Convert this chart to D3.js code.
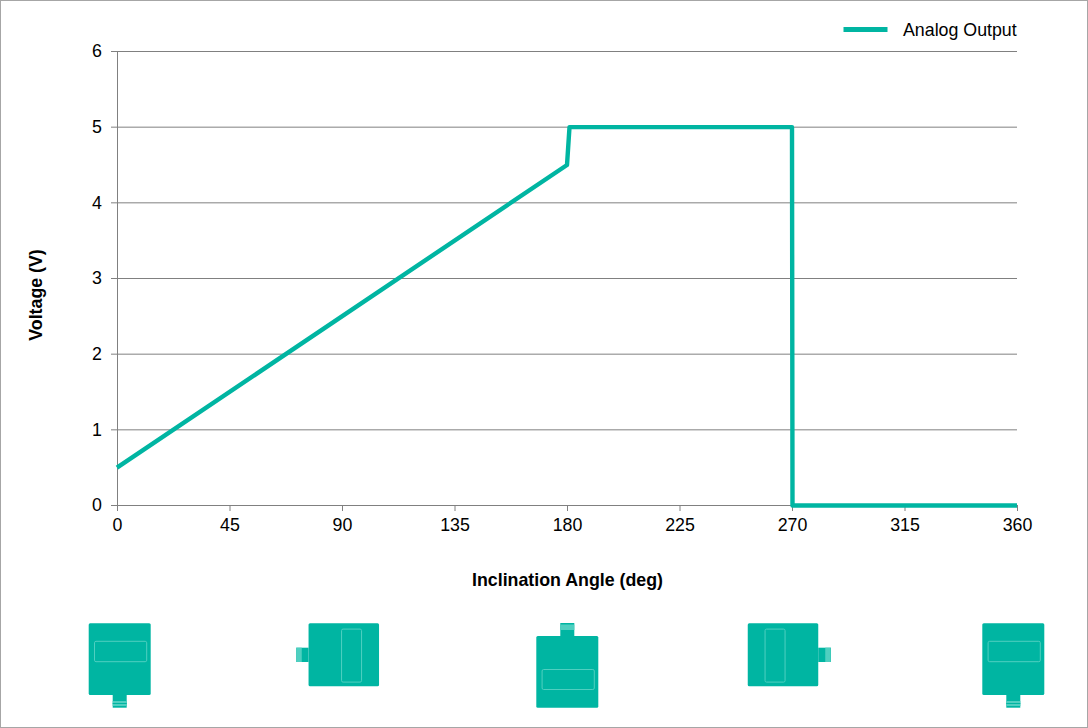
<!DOCTYPE html>
<html><head><meta charset="utf-8">
<script src="https://cdn.jsdelivr.net/npm/d3@7"></script>
<style>html,body{margin:0;padding:0;background:#fff}svg{display:block}text{font-family:"Liberation Sans",Arial,sans-serif;fill:#000}</style>
</head><body><svg id="c" width="1088" height="728"></svg>
<script>
const seriesName = "Analog Output";
const angles = [0, 180, 181, 270, 270.2, 360];
const voltages = [0.5, 4.5, 5, 5, 0, 0];
const xTicks = [0, 45, 90, 135, 180, 225, 270, 315, 360];
const yTicks = [0, 1, 2, 3, 4, 5, 6];
const xTitle = "Inclination Angle (deg)";
const yTitle = "Voltage (V)";
const iconAngles = [0, 90, 180, 270, 360];

const W = 1088, H = 728, teal = "#00b5a2", gray = "#808080", pale = "#4fcfc0", fs = 17.8;
const svg = d3.select("#c");
svg.append("rect").attr("x",.5).attr("y",.5).attr("width",W-1).attr("height",H-1).attr("fill","#fff").attr("stroke","#a6a6a6");

const x = d3.scaleLinear().domain([0,360]).range([117,1017]);
const y = d3.scaleLinear().domain([0,6]).range([505.5,51.5]);

const gy = svg.append("g").attr("transform","translate(117,-0.5)")
  .call(d3.axisLeft(y).tickValues(yTicks).tickFormat(d3.format("d")).tickSizeInner(6).tickSizeOuter(0));
const gx = svg.append("g").attr("transform","translate(0,505)")
  .call(d3.axisBottom(x).tickValues(xTicks).tickFormat(d3.format("d")).tickSizeInner(6).tickSizeOuter(0));
[gx,gy].forEach(g=>{
  g.selectAll("path,line").attr("stroke",gray);
  g.selectAll("text").attr("font-size",fs).attr("font-family",'"Liberation Sans",Arial,sans-serif').attr("fill","#000");
});
gy.selectAll("text").attr("x",-15);
gx.selectAll("text").attr("y",13.5);
svg.append("g").selectAll("line").data(yTicks).join("line")
  .attr("x1",x(0)).attr("x2",x(360)).attr("y1",d=>y(d)).attr("y2",d=>y(d)).attr("stroke",gray);

svg.append("path")
  .datum(angles.map((a,i)=>[a,voltages[i]]))
  .attr("d",d3.line().x(d=>x(d[0])).y(d=>y(d[1])))
  .attr("fill","none").attr("stroke",teal).attr("stroke-width",4.4).attr("stroke-linejoin","round");

svg.append("line").attr("x1",843.5).attr("x2",887.5).attr("y1",29.5).attr("y2",29.5).attr("stroke",teal).attr("stroke-width",5);
svg.append("text").attr("x",903).attr("y",35.5).attr("font-size",fs).text(seriesName);

svg.append("text").attr("x",567.5).attr("y",586).attr("text-anchor","middle").attr("font-size",fs).attr("font-weight","bold").text(xTitle);
svg.append("text").attr("transform","translate(42,295) rotate(-90)").attr("text-anchor","middle").attr("font-size",fs).attr("font-weight","bold").text(yTitle);

// Sensor orientation icons, one per quarter turn
const iconOffset = [2.7, 1.8, 0.3, -9, -3.7];
const iconTopBody = [623.3, 623.3, 636, 623.3, 623.3];
const g = svg.append("g");
iconAngles.forEach((a,i)=>{
  const cx = x(a)+iconOffset[i], top = iconTopBody[i], q = a%360/90;
  const vertical = q===0 || q===2;
  const bw = vertical?62:70.5, bh = vertical?71.7:63;
  const bx = cx-bw/2;
  const ic = g.append("g");
  let t;
  if(q===0) t={x:cx-7,y:top+bh,w:14,h:12.7};
  if(q===2) t={x:cx-7,y:top-13,w:14,h:13};
  if(q===1) t={x:bx-12.3,y:top+24.4,w:12.3,h:14.3};
  if(q===3) t={x:bx+bw,y:top+24.4,w:12.7,h:14.3};
  ic.append("rect").attr("x",t.x).attr("y",t.y).attr("width",t.w).attr("height",t.h).attr("fill",teal);
  if(q===0){ ic.append("rect").attr("x",t.x).attr("y",t.y+6).attr("width",t.w).attr("height",5).attr("fill",pale);
             ic.append("rect").attr("x",t.x).attr("y",t.y+8).attr("width",t.w).attr("height",1).attr("fill",teal);}
  if(q===2){ ic.append("rect").attr("x",t.x).attr("y",t.y+1.5).attr("width",t.w).attr("height",5.5).attr("fill",pale);}
  if(q===1){ ic.append("rect").attr("x",t.x).attr("y",t.y).attr("width",5.5).attr("height",t.h).attr("fill",pale);}
  if(q===3){ ic.append("rect").attr("x",t.x+7).attr("y",t.y).attr("width",5.5).attr("height",t.h).attr("fill",pale);}
  ic.append("rect").attr("x",bx).attr("y",top).attr("width",bw).attr("height",bh).attr("rx",1.5).attr("fill",teal);
  let w;
  if(q===0) w={x:bx+5.8,y:top+18,w:52.2,h:20.4};
  if(q===2) w={x:bx+5.8,y:top+33.5,w:52.2,h:20};
  if(q===1) w={x:bx+33,y:top+5.8,w:20,h:53};
  if(q===3) w={x:bx+17.3,y:top+5.8,w:20,h:53};
  ic.append("rect").attr("x",w.x).attr("y",w.y).attr("width",w.w).attr("height",w.h).attr("rx",1.5)
    .attr("fill","none").attr("stroke",pale).attr("stroke-width",1);
});
</script></body></html>
